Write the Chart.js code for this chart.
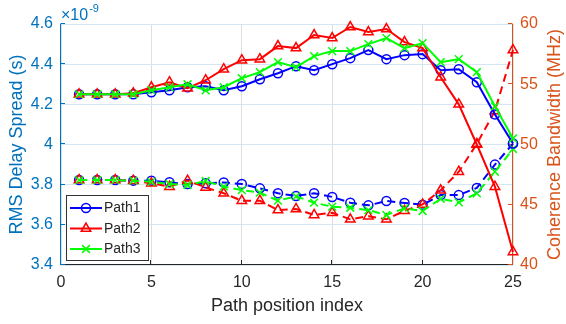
<!DOCTYPE html>
<html>
<head>
<meta charset="utf-8">
<script src="https://cdn.jsdelivr.net/npm/chart.js@4.4.0/dist/chart.umd.min.js"></script>
<style>
  html, body { margin: 0; padding: 0; background: #fff; }
  #wrap { width: 566px; height: 324px; }
</style>
</head>
<body>
<div id="wrap"><canvas id="chart" width="566" height="324"></canvas></div>
<script>
// x: path position index
const pathIndex = [1, 2, 3, 4, 5, 6, 7, 8, 9, 10, 11, 12, 13, 14, 15, 16, 17, 18, 19, 20, 21, 22, 23, 24, 25];

// RMS delay spread (left axis, x 1e-9 s)
const delayPath1 = [4.25, 4.25, 4.25, 4.25, 4.26, 4.27, 4.285, 4.29, 4.27, 4.29, 4.325, 4.355, 4.39, 4.37, 4.40, 4.43, 4.47, 4.425, 4.445, 4.45, 4.37, 4.375, 4.31, 4.15, 4.005];
const delayPath2 = [4.25, 4.25, 4.25, 4.255, 4.285, 4.31, 4.28, 4.32, 4.375, 4.42, 4.425, 4.49, 4.48, 4.545, 4.53, 4.585, 4.56, 4.575, 4.51, 4.48, 4.335, 4.2, 4.0, 3.79, 3.465];
const delayPath3 = [4.25, 4.25, 4.25, 4.25, 4.27, 4.285, 4.30, 4.27, 4.285, 4.33, 4.36, 4.41, 4.385, 4.44, 4.465, 4.465, 4.50, 4.53, 4.48, 4.505, 4.41, 4.425, 4.36, 4.19, 4.03];

// coherence bandwidth (right axis, MHz)
const cohPath1 = [47.05, 47.05, 47.05, 47.0, 47.0, 46.86, 46.72, 46.78, 46.85, 46.72, 46.36, 45.95, 45.73, 45.95, 45.65, 45.17, 44.95, 45.31, 45.15, 45.0, 45.8, 45.8, 46.4, 48.33, 50.07];
const cohPath2 = [47.05, 47.05, 47.05, 47.0, 46.78, 46.5, 47.0, 46.44, 45.95, 45.34, 45.34, 44.56, 44.65, 44.15, 44.34, 43.79, 44.05, 43.79, 44.5, 45.03, 46.2, 47.74, 50.05, 52.78, 57.84];
const cohPath3 = [47.05, 47.05, 47.05, 47.0, 46.9, 46.72, 46.64, 46.97, 46.5, 46.22, 46.0, 45.34, 45.7, 45.17, 44.84, 44.75, 44.56, 44.15, 44.7, 44.48, 45.5, 45.2, 45.95, 47.74, 49.63];

// tick labels
const xTicks = [0, 5, 10, 15, 20, 25];
const leftTicks = [3.4, 3.6, 3.8, 4, 4.2, 4.4, 4.6];
const rightTicks = [40, 45, 50, 55, 60];

const seriesNames = ['Path1', 'Path2', 'Path3'];

const FONT = '"Liberation Sans", Arial, Helvetica, sans-serif';
const LEFT_COLOR = '#0072BD';
const RIGHT_COLOR = '#D95319';
const AXIS_COLOR = '#262626';
const BLUE = '#0000FF', RED = '#FF0000', GREEN = '#00FF00';

Chart.defaults.font.family = FONT;

function pts(ys) {
  return pathIndex.map((x, i) => ({ x: x, y: ys[i] }));
}

const markerStyle = {
  circle: { pointStyle: 'circle', pointRadius: 4.5, pointBorderWidth: 1.5 },
  triangle: { pointStyle: 'triangle', pointRadius: 5.5, pointBorderWidth: 1.5 },
  cross: { pointStyle: 'crossRot', pointRadius: 5.5, pointBorderWidth: 1.5 }
};

function makeSet(label, ys, color, marker, axis, dashed, order) {
  return Object.assign({
    label: label,
    data: pts(ys),
    yAxisID: axis,
    borderColor: color,
    pointBorderColor: color,
    pointBackgroundColor: 'rgba(0,0,0,0)',
    borderWidth: 2,
    borderDash: dashed ? [8, 5] : [],
    tension: 0,
    fill: false,
    clip: false,
    order: order
  }, markerStyle[marker]);
}

const datasets = [
  makeSet('Path1', delayPath1, BLUE, 'circle', 'y', false, 2),
  makeSet('Path2', delayPath2, RED, 'triangle', 'y', false, 1),
  makeSet('Path3', delayPath3, GREEN, 'cross', 'y', false, 0),
  makeSet('Path1 BW', cohPath1, BLUE, 'circle', 'y1', true, 5),
  makeSet('Path2 BW', cohPath2, RED, 'triangle', 'y1', true, 4),
  makeSet('Path3 BW', cohPath3, GREEN, 'cross', 'y1', true, 3)
];

function drawMarker(ctx, kind, x, y, color) {
  ctx.save();
  ctx.strokeStyle = color;
  ctx.lineWidth = 1.5;
  ctx.beginPath();
  if (kind === 'circle') {
    ctx.arc(x, y, 4.5, 0, Math.PI * 2);
  } else if (kind === 'triangle') {
    const r = 5.5;
    ctx.moveTo(x, y - r);
    ctx.lineTo(x + r * Math.sin(2 * Math.PI / 3), y + r * 0.5);
    ctx.lineTo(x - r * Math.sin(2 * Math.PI / 3), y + r * 0.5);
    ctx.closePath();
  } else {
    const d = 5.5 * Math.SQRT1_2;
    ctx.moveTo(x - d, y - d); ctx.lineTo(x + d, y + d);
    ctx.moveTo(x + d, y - d); ctx.lineTo(x - d, y + d);
  }
  ctx.stroke();
  ctx.restore();
}

// axis lines, inward tick marks, right title, exponent and legend (matlab look)
const matlabDecor = {
  id: 'matlabDecor',
  beforeDatasetsDraw(chart) {
    const { ctx, chartArea: a, scales } = chart;
    const L = Math.round(a.left) - 0.5, R = Math.round(a.right) - 0.5, B = Math.round(a.bottom) - 0.5;
    const tl = 4.5;
    ctx.save();
    ctx.lineWidth = 1;
    ctx.strokeStyle = AXIS_COLOR;
    ctx.beginPath();
    ctx.moveTo(L, B); ctx.lineTo(R, B);
    xTicks.forEach(v => {
      const px = Math.round(scales.x.getPixelForValue(v)) - 0.5;
      ctx.moveTo(px, B); ctx.lineTo(px, B - tl);
    });
    ctx.stroke();

    ctx.strokeStyle = LEFT_COLOR;
    ctx.beginPath();
    ctx.moveTo(L, a.top); ctx.lineTo(L, B);
    leftTicks.forEach(v => {
      const py = Math.round(scales.y.getPixelForValue(v)) - 0.5;
      ctx.moveTo(L, py); ctx.lineTo(L + tl, py);
    });
    ctx.stroke();

    ctx.strokeStyle = RIGHT_COLOR;
    ctx.beginPath();
    ctx.moveTo(R, a.top); ctx.lineTo(R, B);
    rightTicks.forEach(v => {
      const py = Math.round(scales.y1.getPixelForValue(v)) - 0.5;
      ctx.moveTo(R, py); ctx.lineTo(R - tl, py);
    });
    ctx.stroke();
    ctx.restore();
  },
  afterDraw(chart) {
    const { ctx, chartArea: a } = chart;
    ctx.save();

    // right axis title, reading bottom to top
    ctx.fillStyle = RIGHT_COLOR;
    ctx.font = '18px ' + FONT;
    ctx.textAlign = 'center';
    ctx.textBaseline = 'middle';
    ctx.translate(555, (a.top + a.bottom) / 2);
    ctx.rotate(-Math.PI / 2);
    ctx.fillText('Coherence Bandwidth (MHz)', 0, 0);
    ctx.setTransform(1, 0, 0, 1, 0, 0);

    // exponent above left axis
    ctx.fillStyle = LEFT_COLOR;
    ctx.textAlign = 'left';
    ctx.textBaseline = 'alphabetic';
    ctx.font = '16px ' + FONT;
    ctx.fillText('\u00d710', 61, 20);
    const w = ctx.measureText('\u00d710').width;
    ctx.font = '11px ' + FONT;
    ctx.fillText('-9', 61 + w + 1, 12);

    // legend box
    const bx = 66.5, by = 195.5, bw = 82, bh = 65;
    ctx.fillStyle = '#ffffff';
    ctx.fillRect(bx, by, bw, bh);
    ctx.strokeStyle = '#333333';
    ctx.lineWidth = 1;
    ctx.strokeRect(bx, by, bw, bh);
    const rows = [208, 228.5, 249];
    const kinds = ['circle', 'triangle', 'cross'];
    const cols = [BLUE, RED, GREEN];
    ctx.font = '14px ' + FONT;
    ctx.textBaseline = 'middle';
    rows.forEach((ry, i) => {
      ctx.strokeStyle = cols[i];
      ctx.lineWidth = 2;
      ctx.beginPath();
      ctx.moveTo(70, ry); ctx.lineTo(102, ry);
      ctx.stroke();
      drawMarker(ctx, kinds[i], 86, ry, cols[i]);
      ctx.fillStyle = AXIS_COLOR;
      ctx.fillText(seriesNames[i], 104, ry + 0.5);
    });
    ctx.restore();
  }
};

new Chart(document.getElementById('chart'), {
  type: 'line',
  data: { datasets: datasets },
  options: {
    responsive: false,
    animation: false,
    devicePixelRatio: 1,
    layout: { padding: { top: 24, left: 0, right: 0, bottom: 0 } },
    plugins: { legend: { display: false }, tooltip: { enabled: false } },
    scales: {
      x: {
        type: 'linear',
        min: 0,
        max: 25,
        afterBuildTicks: s => { s.ticks = xTicks.map(v => ({ value: v })); },
        afterFit: s => { s.height = 59; },
        ticks: { color: AXIS_COLOR, font: { size: 16 }, padding: 8, maxRotation: 0 },
        grid: { color: '#DCDFE3', drawTicks: false },
        border: { display: false },
        title: {
          display: true,
          text: 'Path position index',
          color: AXIS_COLOR,
          font: { size: 18 },
          padding: { top: 0, bottom: 7 }
        }
      },
      y: {
        position: 'left',
        min: 3.4,
        max: 4.6,
        afterBuildTicks: s => { s.ticks = leftTicks.map(v => ({ value: v })); },
        afterFit: s => { s.width = 61; },
        ticks: {
          color: LEFT_COLOR,
          font: { size: 16 },
          padding: 8,
          callback: v => String(Number(v.toFixed(1)))
        },
        grid: { color: '#D5E5F2', drawTicks: false },
        border: { display: false },
        title: {
          display: true,
          text: 'RMS Delay Spread (s)',
          color: LEFT_COLOR,
          font: { size: 18 },
          padding: { top: 6, bottom: 0 }
        }
      },
      y1: {
        position: 'right',
        min: 40,
        max: 60,
        afterBuildTicks: s => { s.ticks = rightTicks.map(v => ({ value: v })); },
        afterFit: s => { s.width = 53; },
        ticks: { color: RIGHT_COLOR, font: { size: 16 }, padding: 7 },
        grid: { display: false, drawTicks: false },
        border: { display: false }
      }
    }
  },
  plugins: [matlabDecor]
});
</script>
</body>
</html>
